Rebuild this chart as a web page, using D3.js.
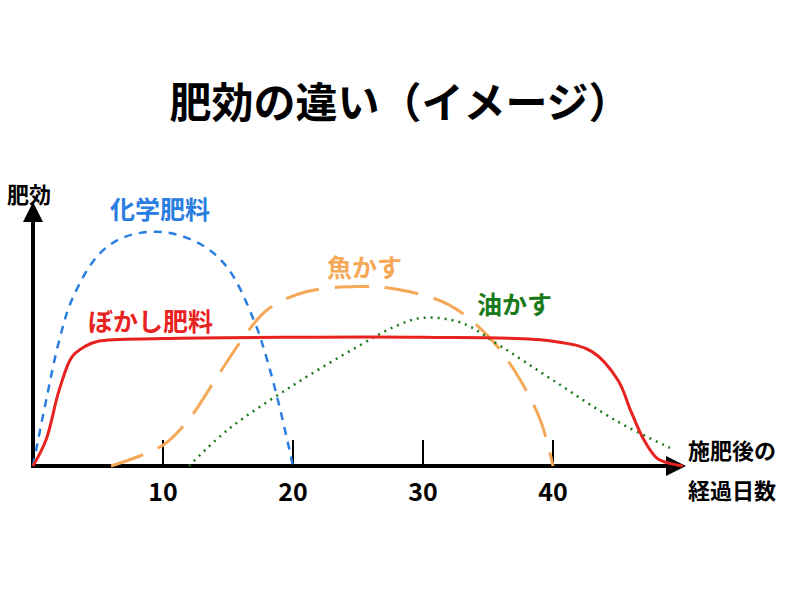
<!DOCTYPE html>
<html><head><meta charset="utf-8">
<script src="https://cdn.jsdelivr.net/npm/d3@7"></script>
<style>body{margin:0;background:#fff}text{font-family:"Noto Sans CJK JP",sans-serif;font-weight:bold}</style>
</head><body><svg width="800" height="600"></svg>
<script>
// days after fertilizing vs effect (arbitrary units)
const kagaku = [[0,0],[1,25],[2,48],[3,64],[5,81],[7,88],[10,90],[13,85],[15,76],[17,56],[18,41],[19,22],[20,0]];
const bokashi = [[0,0],[1,10],[2,29],[3,42],[4,46],[5,48],[10,49],[20,49.5],[30,49.5],[40,48],[43,44],[45,33],[46,21],[47,10],[48,3],[49,1],[50,0]];
const uokasu = [[6,0],[10,8],[12,18],[14,33],[16,48],[18,60],[21,67],[25,69],[28,68],[32,62],[35,50],[37,37],[39,18],[40,0]];
const aburakasu = [[12,0],[15,14],[20,31],[25,46],[28,54],[30,57],[33,55],[36,46],[40,33],[45,17],[49,7]];
const xTicks = [10,20,30,40];

const svg = d3.select("svg");
const x = d3.scaleLinear().domain([0,50]).range([33,683]);
const y = d3.scaleLinear().domain([0,100]).range([466,206]);
const line = d3.line().x(d => x(d[0])).y(d => y(d[1])).curve(d3.curveCatmullRom);

svg.append("text").attr("x",400).attr("y",118).attr("text-anchor","middle")
  .attr("font-size",42).text("肥効の違い（イメージ）");

// axes
svg.append("defs").append("marker").attr("id","ar").attr("viewBox","0 0 10 10")
  .attr("refX",5).attr("refY",5).attr("markerWidth",5).attr("markerHeight",5).attr("orient","auto")
  .append("path").attr("d","M0,0L10,5L0,10z").attr("fill","#000");
svg.append("line").attr("x1",33).attr("y1",466).attr("x2",33).attr("y2",212)
  .attr("stroke","#000").attr("stroke-width",4).attr("marker-end","url(#ar)");
svg.append("line").attr("x1",31).attr("y1",466).attr("x2",676).attr("y2",466)
  .attr("stroke","#000").attr("stroke-width",4).attr("marker-end","url(#ar)");
svg.selectAll(".tk").data(xTicks).join("line")
  .attr("x1",d=>x(d)).attr("x2",d=>x(d)).attr("y1",466).attr("y2",440)
  .attr("stroke","#000").attr("stroke-width",2);
svg.selectAll(".tl").data(xTicks).join("text")
  .attr("x",d=>x(d)).attr("y",501).attr("text-anchor","middle").attr("font-size",25).text(d=>d);

svg.append("text").attr("x",7).attr("y",203).attr("font-size",22).text("肥効");
svg.append("text").attr("x",688).attr("y",459).attr("font-size",22).text("施肥後の");
svg.append("text").attr("x",688).attr("y",499).attr("font-size",22).text("経過日数");

const series = [
  {data:kagaku, color:"#2a7de1", dash:"8,7", w:2.5},
  {data:uokasu, color:"#f5a858", dash:"34,16", w:3},
  {data:aburakasu, color:"#1a7a1a", dash:"2,5", w:2.5},
  {data:bokashi, color:"#e8221f", dash:null, w:3}
];
svg.selectAll(".s").data(series).join("path")
  .attr("d",d=>line(d.data)).attr("fill","none")
  .attr("stroke",d=>d.color).attr("stroke-width",d=>d.w)
  .attr("stroke-dasharray",d=>d.dash);

const labels = [
  {t:"化学肥料", x:110, y:219, c:"#2a7de1"},
  {t:"ぼかし肥料", x:88, y:331, c:"#e8221f"},
  {t:"魚かす", x:327, y:277, c:"#f5a858"},
  {t:"油かす", x:477, y:314, c:"#1a7a1a"}
];
svg.selectAll(".lb").data(labels).join("text")
  .attr("x",d=>d.x).attr("y",d=>d.y).attr("font-size",25).attr("fill",d=>d.c).text(d=>d.t);
</script></body></html>
